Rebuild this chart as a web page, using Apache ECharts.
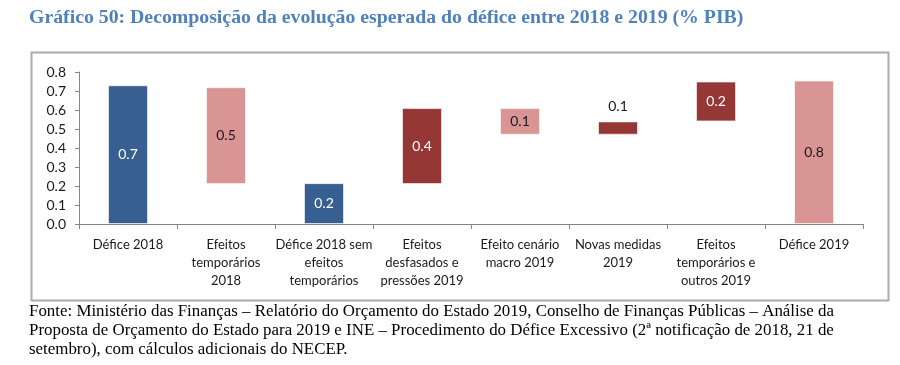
<!DOCTYPE html>
<html>
<head>
<meta charset="utf-8">
<script src="https://cdn.jsdelivr.net/npm/echarts@6/dist/echarts.min.js"></script>
<style>
html,body{margin:0;padding:0;background:#fff;}
#chart{width:900px;height:365px;}
</style>
</head>
<body>
<div id="chart"></div>
<script>
var categories = [
  "Défice 2018",
  "Efeitos\ntemporários\n2018",
  "Défice 2018 sem\nefeitos\ntemporários",
  "Efeitos\ndesfasados e\npressões 2019",
  "Efeito cenário\nmacro 2019",
  "Novas medidas\n2019",
  "Efeitos\ntemporários e\noutros 2019",
  "Défice 2019"
];
var baseValues = [0, 0.21, 0, 0.21, 0.47, 0.47, 0.54, 0];
var barValues = [0.73, 0.51, 0.215, 0.40, 0.14, 0.07, 0.21, 0.755];
var barKinds = ["total", "down", "total", "up", "down", "up", "up", "final"];
var yTicks = [0, 0.1, 0.2, 0.3, 0.4, 0.5, 0.6, 0.7, 0.8];

var kindColor = { total: "#375F91", down: "#D99594", up: "#953735", final: "#D99594" };
var kindLabel = { total: "#ffffff", down: "#1a1a1a", up: "#ffffff", final: "#1a1a1a" };

var font = "Lato, 'Open Sans', sans-serif";

var visData = barValues.map(function (v, i) {
  var k = barKinds[i];
  var outside = (i === 5);
  return {
    value: v,
    itemStyle: { color: kindColor[k] },
    label: {
      position: outside ? "top" : "inside",
      color: outside ? "#1a1a1a" : kindLabel[k],
      distance: 8
    }
  };
});

var chart = echarts.init(document.getElementById("chart"), null, { renderer: "canvas" });
chart.setOption({
  animation: false,
  backgroundColor: "#ffffff",
  grid: { left: 79, right: 37, top: 72, bottom: 141, containLabel: false },
  xAxis: {
    type: "category",
    data: categories,
    axisLine: { lineStyle: { color: "#868686", width: 1 } },
    axisTick: { show: true, length: 5, lineStyle: { color: "#868686" } },
    axisLabel: {
      interval: 0, color: "#1a1a1a", fontFamily: font, fontSize: 13,
      lineHeight: 18, margin: 12
    }
  },
  yAxis: {
    type: "value",
    min: 0, max: 0.8, interval: 0.1,
    axisLine: { show: true, lineStyle: { color: "#868686", width: 1 } },
    axisTick: { show: true, length: 4, lineStyle: { color: "#868686" } },
    splitLine: { show: false },
    axisLabel: {
      color: "#1a1a1a", fontFamily: font, fontSize: 14, margin: 13,
      formatter: function (v) { return v.toFixed(1); }
    }
  },
  series: [
    {
      type: "bar", stack: "w", data: baseValues, barWidth: 40,
      itemStyle: { color: "rgba(0,0,0,0)" }, silent: true
    },
    {
      type: "bar", stack: "w", data: visData, barWidth: 40,
      itemStyle: { borderColor: "rgba(255,255,255,0.6)", borderWidth: 1 },
      label: {
        show: true, fontFamily: font, fontSize: 14,
        formatter: function (p) { return p.value.toFixed(1); }
      }
    }
  ],
  graphic: [
    {
      type: "rect", left: 29, top: 50, silent: true, z: -1,
      shape: { width: 857, height: 248 },
      style: { fill: "none", stroke: "#ABABAB", lineWidth: 2 }
    },
    {
      type: "text", left: 29, top: 8,
      style: {
        text: "Gráfico 50: Decomposição da evolução esperada do défice entre 2018 e 2019 (% PIB)",
        font: "bold 19.8px 'Liberation Serif', serif", fill: "#4F81BD"
      }
    },
    {
      type: "text", left: 29, top: 302,
      style: {
        text: "Fonte: Ministério das Finanças – Relatório do Orçamento do Estado 2019, Conselho de Finanças Públicas – Análise da\nProposta de Orçamento do Estado para 2019 e INE – Procedimento do Défice Excessivo (2ª notificação de 2018, 21 de\nsetembro), com cálculos adicionais do NECEP.",
        font: "16.9px 'Liberation Serif', serif", fill: "#000000", lineHeight: 19
      }
    }
  ]
});
</script>
</body>
</html>
